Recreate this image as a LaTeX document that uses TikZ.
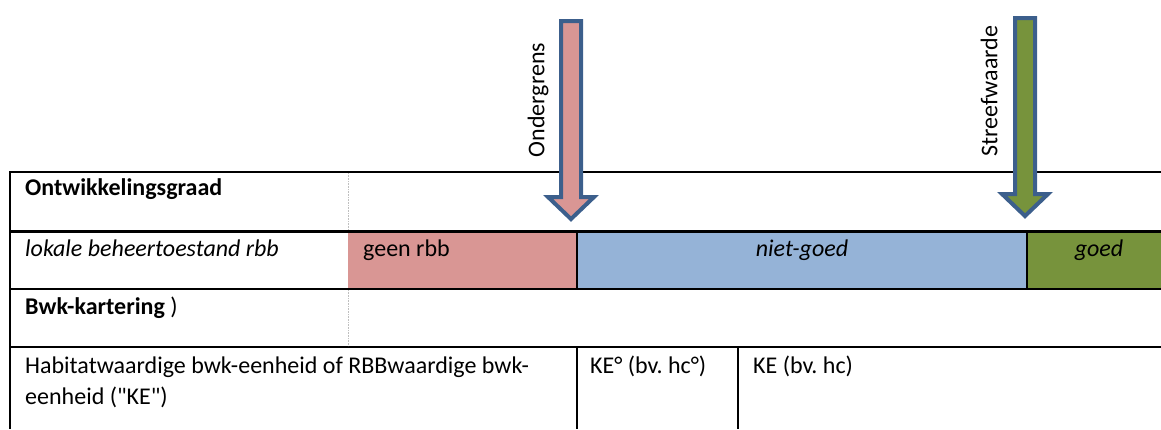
\documentclass[tikz,border=0pt]{standalone}
\usepackage{fontspec}
\setmainfont{Carlito}[Ligatures=TeXOff]
\frenchspacing
\definecolor{cpink}{HTML}{D99694}
\definecolor{cblue}{HTML}{95B3D7}
\definecolor{cgreen}{HTML}{77933C}
\definecolor{cedge}{HTML}{3C5F8C}
\begin{document}
\begin{tikzpicture}[x=1pt,y=-1pt,
  txt/.style={anchor=base west,inner sep=0pt,font=\fontsize{24}{28}\selectfont},
  ctxt/.style={anchor=base,inner sep=0pt,font=\fontsize{24}{28}\selectfont},
  rule/.style={line width=2pt,black},
  thickrule/.style={line width=3pt,black},
  dotrule/.style={line width=0.6pt,black!25,densely dotted},
  arrowshape/.style={line width=4pt,draw=cedge,line join=miter},
  vlabel/.style={rotate=90,inner sep=0pt,font=\fontsize{24}{28}\selectfont}]
\useasboundingbox (0,0) rectangle (1161,429);
% cell fills
\fill[cpink] (348,231) rectangle (577,289);
\fill[cblue] (577,231) rectangle (1027,289);
\fill[cgreen] (1027,231) rectangle (1161,289);
% rules
\draw[rule] (10,172) -- (1161,172);
\draw[thickrule] (10,231) -- (1161,231);
\draw[rule] (10,289) -- (1161,289);
\draw[rule] (10,347) -- (1161,347);
\draw[rule] (10,171) -- (10,429);
\draw[line width=1.5pt] (577,231) -- (577,289);
\draw[line width=1.5pt] (1027,231) -- (1027,289);
\draw[rule] (577,347) -- (577,429);
\draw[rule] (738,347) -- (738,429);
\draw[dotrule] (348,173) -- (348,230);
\draw[dotrule] (348,290) -- (348,346);
% texts
\node[txt,font=\fontsize{24}{28}\selectfont\bfseries] (og) at (25,195) {Ontwikkelingsgraad};
\node[txt,font=\fontsize{24}{28}\selectfont\itshape] (lb) at (25,256) {lokale beheertoestand rbb};
\node[txt] (gr) at (363,256) {geen rbb};
\node[ctxt,font=\fontsize{24}{28}\selectfont\itshape] (ng) at (802,256) {niet-goed};
\node[ctxt,font=\fontsize{24}{28}\selectfont\itshape] (gd) at (1099,256) {goed};
\node[txt] (bk) at (25,314) {\textbf{Bwk-kartering} )};
\node[txt] (hb1) at (25,373) {Habitatwaardige bwk-eenheid of RBBwaardige bwk-};
\node[txt] (hb2) at (25,404) {eenheid ("KE")};
\node[txt] (ke1) at (590,373) {KE° (bv. hc°)};
\node[txt] (ke2) at (753,373) {KE (bv. hc)};
% arrows
\draw[arrowshape,fill=cpink] (561,21) -- (581,21) -- (581,197) -- (594,197) -- (571,219) -- (548,197) -- (561,197) -- cycle;
\draw[arrowshape,fill=cgreen] (1015,18) -- (1035,18) -- (1035,194) -- (1048,194) -- (1025,216) -- (1002,194) -- (1015,194) -- cycle;
\node[vlabel] (on) at (538,100) {Ondergrens};
\node[vlabel] (sw) at (989,91) {Streefwaarde};
\end{tikzpicture}
\end{document}
